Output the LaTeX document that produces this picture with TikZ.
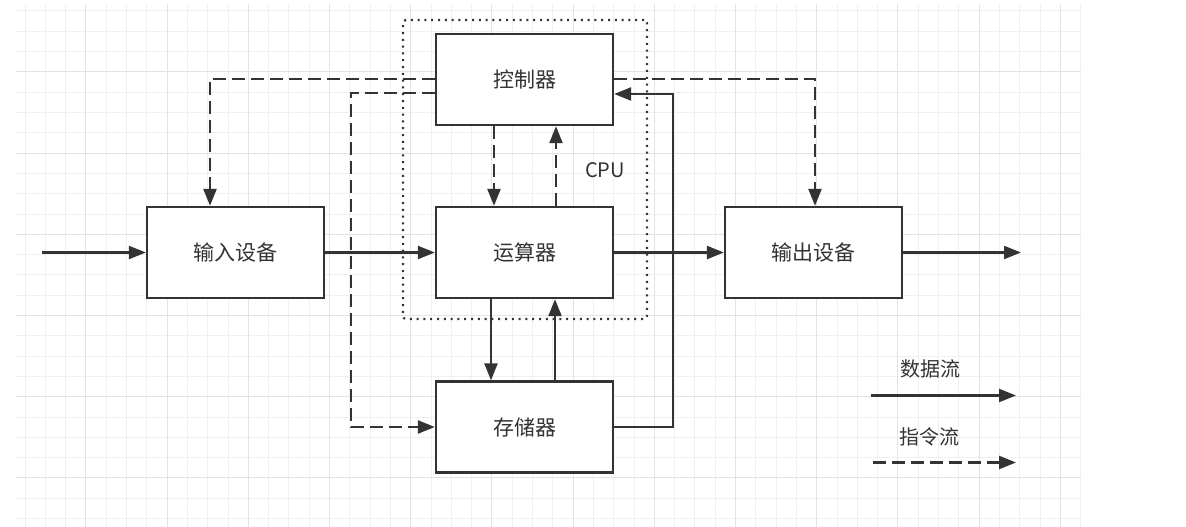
\documentclass[tikz,border=0pt]{standalone}
\usepackage{fontspec}
\setmainfont{Noto Sans CJK SC}
\usetikzlibrary{arrows.meta,calc}
\definecolor{ink}{HTML}{333333}
\definecolor{gridminor}{HTML}{F0F0F0}
\definecolor{gridmajor}{HTML}{E3E3E3}
\begin{document}
\begin{tikzpicture}[x=1pt,y=-1pt,
  box/.style={draw=ink, line width=2.3pt, fill=white, minimum width=177pt, minimum height=91pt, inner sep=0pt, font=\fontsize{21}{25}\selectfont, text=ink},
  data/.style={draw=ink, line width=2.3pt, -{Triangle[length=17pt,width=13pt]}},
  ctl/.style={data, dash pattern=on 13pt off 6pt},
  cpubox/.style={draw=ink, line width=2.2pt, dash pattern=on 2pt off 4.8pt, rounded corners=3pt, minimum width=244pt, minimum height=299pt, inner sep=0pt},
  lbl/.style={font=\fontsize{20}{24}\selectfont, text=ink},
  gminor/.style={draw=gridminor, line width=1pt},
  gmajor/.style={draw=gridmajor, line width=1pt}]
\useasboundingbox (0,0) rectangle (1186,527);
% grid
\foreach \k in {0,...,52} \draw[gminor] ({25+20.3*\k},4) -- ({25+20.3*\k},527);
\foreach \k in {0,...,25} \draw[gminor] (16,{11+20.3*\k}) -- (1081,{11+20.3*\k});
\foreach \k in {3,7,...,51} \draw[gmajor] ({25+20.3*\k},4) -- ({25+20.3*\k},527);
\foreach \k in {3,7,...,23} \draw[gmajor] (16,{11+20.3*\k}) -- (1081,{11+20.3*\k});
% CPU group
\node[cpubox] (cpu) at (525,169.5) {};
\node[lbl] (cpulbl) at (605,170) {CPU};
% boxes
\node[box] (in) at (235.5,252.5) {输入设备};
\node[box] (alu) at (524.5,252.5) {运算器};
\node[box] (ctrl) at (524.5,79.5) {控制器};
\node[box] (mem) at (524.5,427) {存储器};
\node[box] (out) at (813.5,252.5) {输出设备};
% free ends
\coordinate (src) at (42,252.5);
\coordinate (sink) at (1021,252.5);
% data flow
\draw[data] (src) -- (in);
\draw[data] (in) -- (alu);
\draw[data] (alu) -- (out);
\draw[data] (out) -- (sink);
\draw[data] ($(alu.south)+(-33.5,0)$) -- ($(mem.north)+(-33.5,0)$);
\draw[data] ($(mem.north)+(30.5,0)$) -- ($(alu.south)+(30.5,0)$);
\draw[data] (mem.east) -| ($(ctrl.east)+(59,14.5)$) -- ($(ctrl.east)+(0,14.5)$);
% instruction flow
\draw[ctl] ($(ctrl.west)+(0,-0.5)$) -| ($(in.north)+(-25.5,0)$);
\draw[ctl] ($(ctrl.west)+(0,13.5)$) -| ($(mem.west)+(-84,0)$) -- (mem.west);
\draw[ctl] ($(ctrl.east)+(0,-0.5)$) -| ($(out.north)+(1.5,0)$);
\draw[ctl] ($(ctrl.south)+(-30.5,0)$) -- ($(alu.north)+(-30.5,0)$);
\draw[ctl] ($(alu.north)+(31.5,0)$) -- ($(ctrl.south)+(31.5,0)$);
% legend
\node[lbl] (lgdata) at (930,369) {数据流};
\coordinate (lds) at (871,395.5);
\coordinate (lde) at (1016,395.5);
\draw[data] (lds) -- (lde);
\node[lbl] (lgctl) at (929,437) {指令流};
\coordinate (lcs) at (873,462.5);
\coordinate (lce) at (1016,462.5);
\draw[ctl] (lcs) -- (lce);
\end{tikzpicture}
\end{document}
